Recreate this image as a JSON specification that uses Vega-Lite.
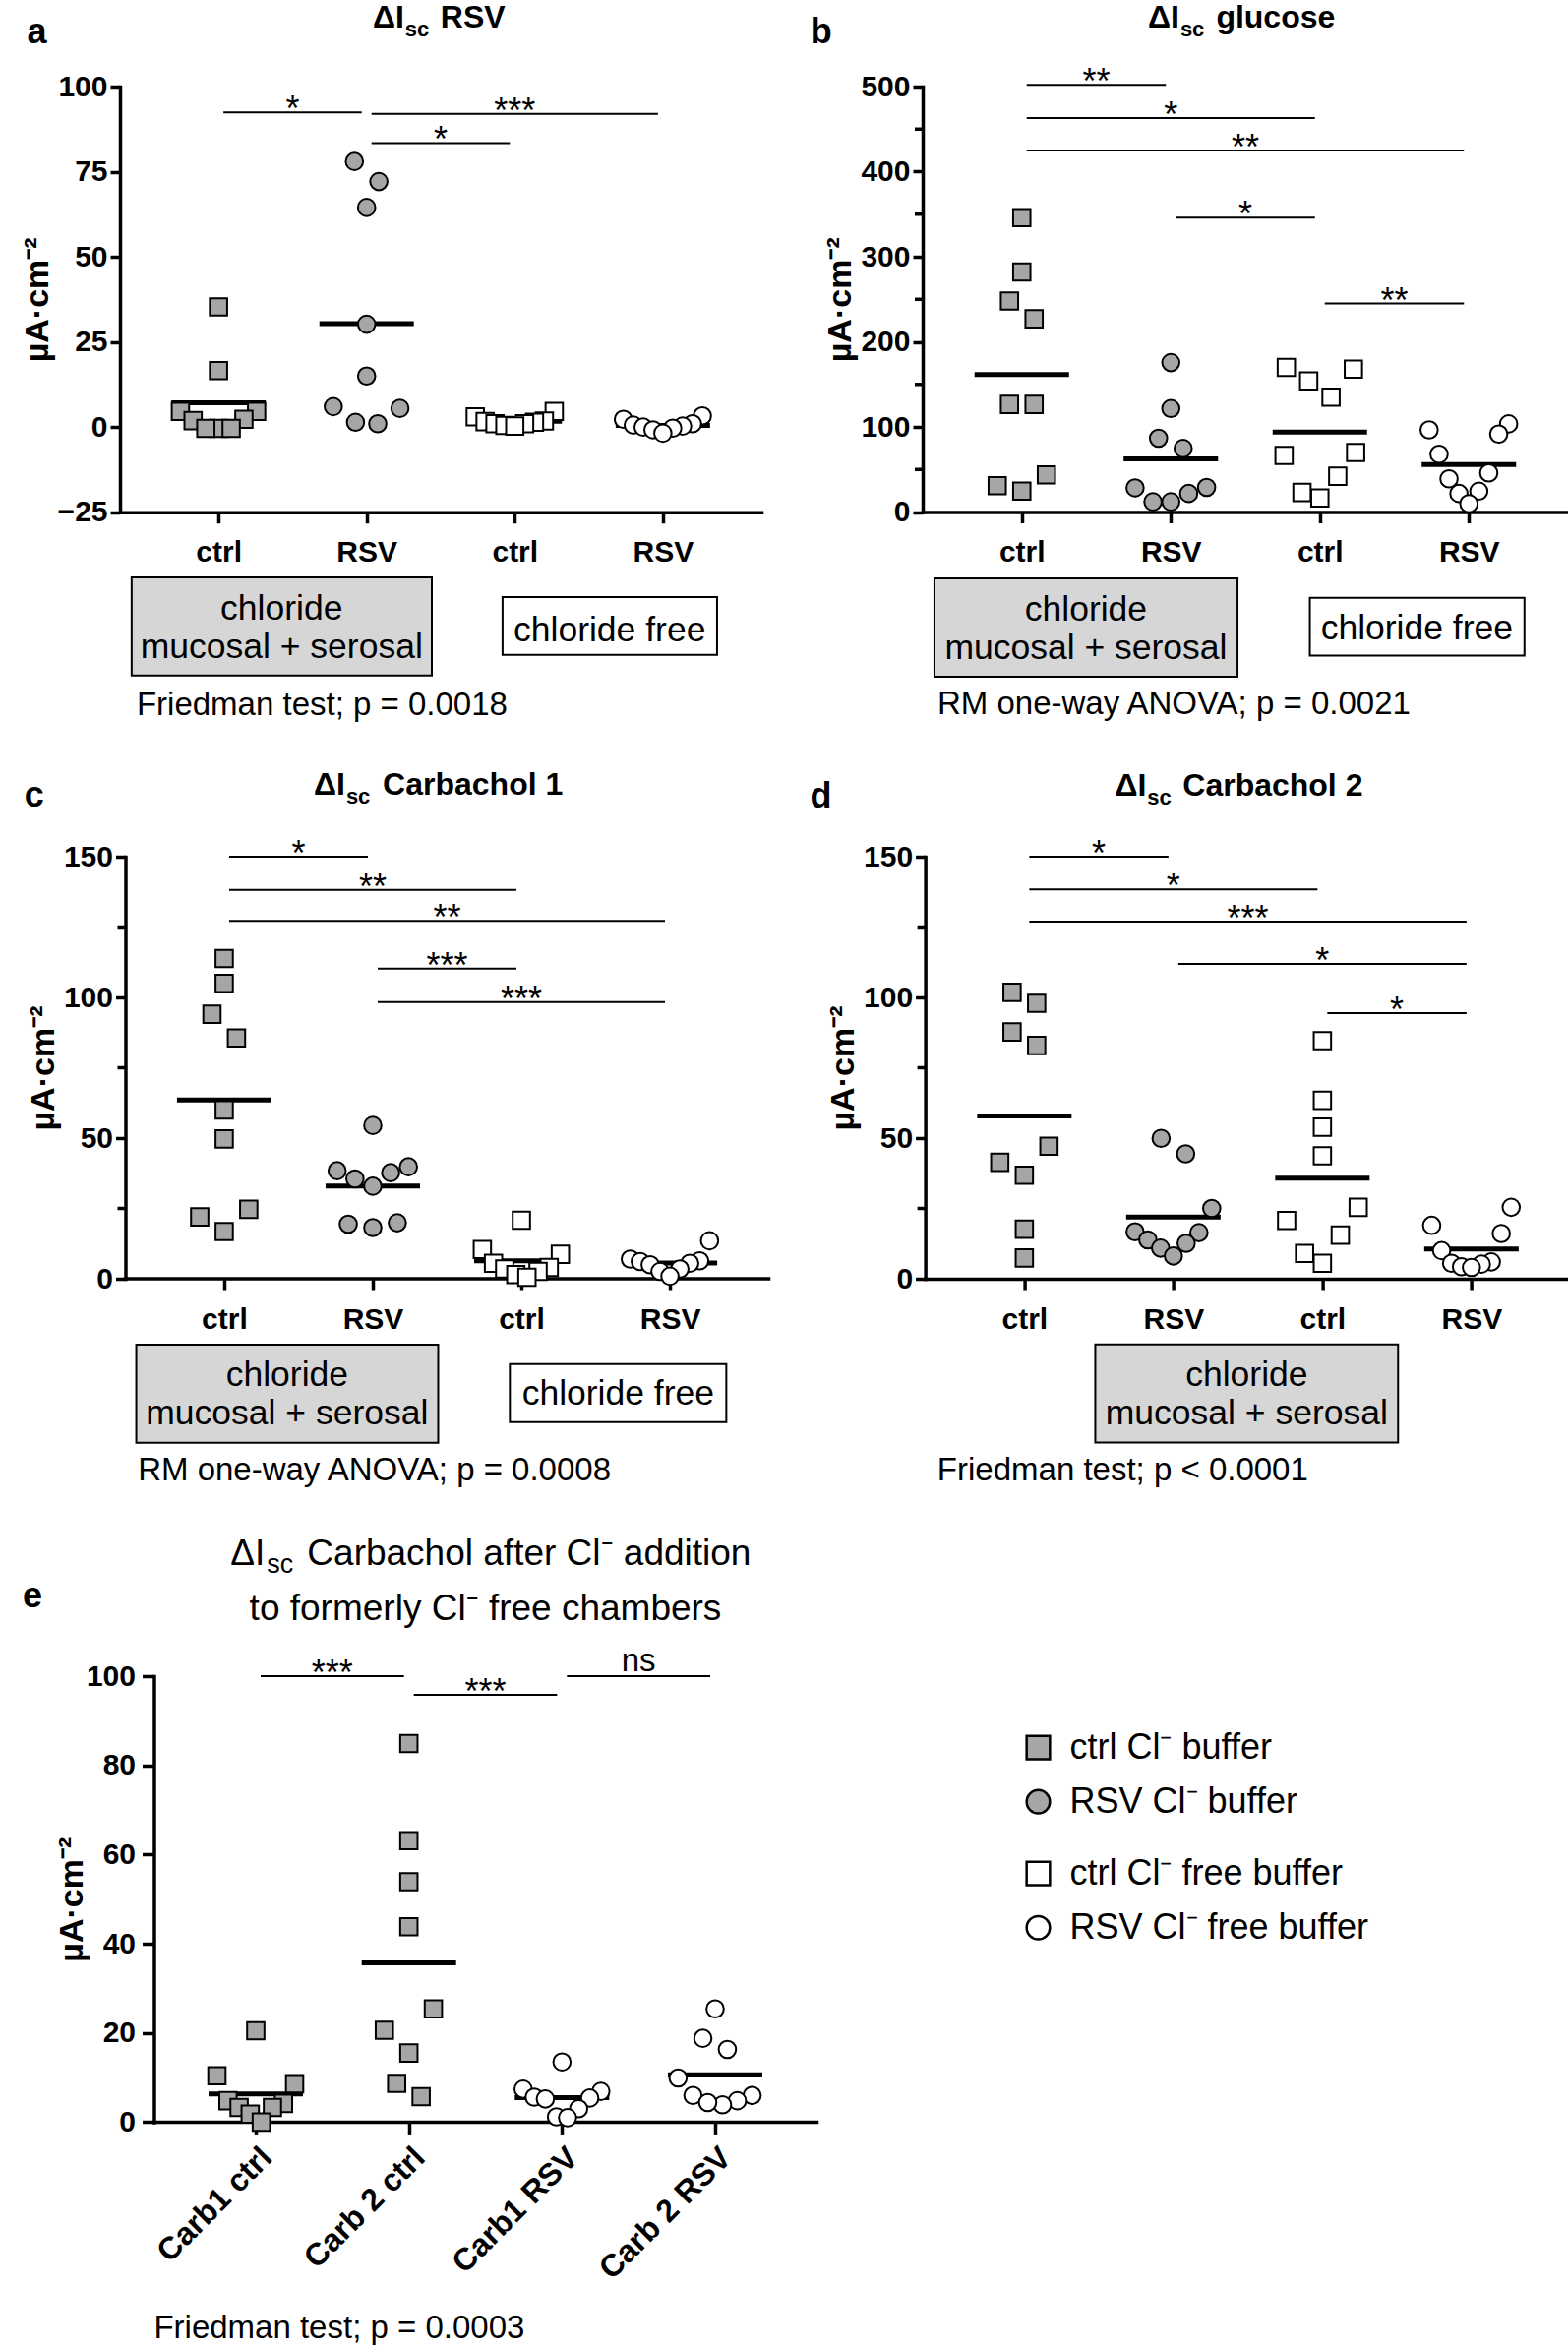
{
"$schema": "https://vega.github.io/schema/vega-lite/v6.json",
"background": "white",
"padding": {"left": 21, "top": 1, "right": 0, "bottom": 0},
"spacing": 47,
"config": {
  "view": {"stroke": null},
  "font": "Liberation Sans",
  "text": {"font": "Liberation Sans", "color": "black"},
  "axis": {"grid": false, "domainColor": "black", "tickColor": "black", "labelColor": "black", "titleColor": "black",
    "labelFont": "Liberation Sans", "titleFont": "Liberation Sans", "labelFontWeight": "bold", "titleFontWeight": "bold",
    "labelFontSize": 30, "titleFontSize": 34, "domainWidth": 3.5, "tickWidth": 3.5, "domainCap": "square"},
  "axisX": {"tickSize": 11, "labelPadding": 15, "labelFontSize": 30},
  "axisY": {"tickSize": 10, "labelPadding": 3, "titlePadding": 3}
},
"vconcat": [
{"hconcat": [
{
 "width": 652, "height": 432.7,
 "data": {"values": [
  {"g":0,"v":35.3,"t":"c"},{"g":0,"v":16.6,"t":"c"},{"g":0,"v":4.6,"t":"c"},{"g":0,"v":4.6,"t":"c"},{"g":0,"v":2.3,"t":"c"},{"g":0,"v":1.9,"t":"c"},{"g":0,"v":-0.4,"t":"c"},{"g":0,"v":-0.4,"t":"c"},{"g":0,"v":-0.4,"t":"c"},
  {"g":1,"v":78,"t":"r"},{"g":1,"v":72.1,"t":"r"},{"g":1,"v":64.5,"t":"r"},{"g":1,"v":30.2,"t":"r"},{"g":1,"v":15,"t":"r"},{"g":1,"v":5.5,"t":"r"},{"g":1,"v":6,"t":"r"},{"g":1,"v":1,"t":"r"},{"g":1,"v":1.4,"t":"r"},
  {"g":2,"v":4.6,"t":"cf"},{"g":2,"v":3,"t":"cf"},{"g":2,"v":1.8,"t":"cf"},{"g":2,"v":1.6,"t":"cf"},{"g":2,"v":1.4,"t":"cf"},{"g":2,"v":1,"t":"cf"},{"g":2,"v":1,"t":"cf"},{"g":2,"v":0.5,"t":"cf"},{"g":2,"v":0.3,"t":"cf"},
  {"g":3,"v":3.3,"t":"rf"},{"g":3,"v":2.3,"t":"rf"},{"g":3,"v":1,"t":"rf"},{"g":3,"v":0.6,"t":"rf"},{"g":3,"v":0.3,"t":"rf"},{"g":3,"v":0,"t":"rf"},{"g":3,"v":-0.3,"t":"rf"},{"g":3,"v":-0.8,"t":"rf"},{"g":3,"v":-1.8,"t":"rf"}
 ]},
 "layer": [
  {"mark": {"type": "tick", "orient": "horizontal", "size": 96, "thickness": 5, "color": "black", "opacity": 1},
   "encoding": {
    "x": {"field": "g", "type": "quantitative", "scale": {"domain": [-0.665, 3.665], "nice": false, "zero": false},
          "axis": {"values": [0,1,2,3], "labelExpr": "['ctrl','RSV','ctrl','RSV'][datum.value]", "title": null}},
    "y": {"aggregate": "mean", "field": "v", "type": "quantitative", "scale": {"domain": [-25, 100], "nice": false, "zero": false},
          "axis": {"values": [-25,0,25,50,75,100], "title": "µA·cm⁻²"}}
   }},
  {"transform": [
     {"window": [{"op": "lag", "field": "v", "as": "pv"}], "groupby": ["g"], "sort": [{"field": "v", "order": "ascending"}]},
     {"calculate": "isValid(datum.pv) && datum.v - datum.pv <= 7.0 ? 0 : 1", "as": "nw"},
     {"window": [{"op": "sum", "field": "nw", "as": "cl"}], "groupby": ["g"], "sort": [{"field": "v", "order": "ascending"}], "frame": [null, 0]},
     {"window": [{"op": "row_number", "as": "rk"}], "groupby": ["g","cl"], "sort": [{"field": "v", "order": "ascending"}]},
     {"joinaggregate": [{"op": "count", "as": "n"}], "groupby": ["g","cl"]},
     {"calculate": "datum.g + ((((datum.rk - 1) % 2 == 0) ? 1 : -1) * ceil((datum.rk - 1) / 2) + (datum.n % 2 == 0 ? 0.5 : 0)) * min(0.165, 0.6 / datum.n)", "as": "xj"}
   ],
   "mark": {"type": "point", "filled": true, "size": 310, "stroke": "black", "strokeWidth": 2, "opacity": 1},
   "encoding": {
    "x": {"field": "xj", "type": "quantitative"},
    "y": {"field": "v", "type": "quantitative"},
    "shape": {"field": "t", "type": "nominal", "scale": {"domain": ["c","r","cf","rf"], "range": ["square","circle","square","circle"]}, "legend": null},
    "fill": {"field": "t", "type": "nominal", "scale": {"domain": ["c","r","cf","rf"], "range": ["#a6a6a6","#a6a6a6","#ffffff","#ffffff"]}, "legend": null}
   }},
  {"data": {"values": [{"id":1,"from":0,"to":1,"h":92.4,"lab":"*"},{"id":2,"from":1,"to":3,"h":92.0,"lab":"***"},{"id":3,"from":1,"to":2,"h":83.4,"lab":"*"}]},
   "layer": [
    {"mark": {"type": "rule", "color": "black", "strokeWidth": 2, "xOffset": 5, "x2Offset": -5},
     "encoding": {"x": {"field": "from", "type": "quantitative"}, "x2": {"field": "to"}, "y": {"field": "h", "type": "quantitative"}}},
    {"transform": [{"fold": ["from","to"], "as": ["end","pos"]}],
     "mark": {"type": "text", "fontSize": 36, "dy": 9, "baseline": "alphabetic", "align": "center"},
     "encoding": {"x": {"aggregate": "mean", "field": "pos", "type": "quantitative"}, "y": {"field": "h", "type": "quantitative"}, "text": {"field": "lab"}, "detail": {"field": "id", "type": "nominal"}}}
   ]},
  {"data": {"values": [{"from":0,"to":1,"lab":["chloride","mucosal + serosal"]}]},
   "layer": [
    {"mark": {"type": "rect", "fill": "#d6d6d6", "stroke": "black", "strokeWidth": 2, "xOffset": -88.3, "x2Offset": 66.3},
     "encoding": {"x": {"field": "from", "type": "quantitative"}, "x2": {"field": "to"}, "y": {"datum": -44.15, "type": "quantitative"}, "y2": {"datum": -73.0}}},
    {"mark": {"type": "text", "fontSize": 35.5, "lineHeight": 39, "align": "center", "baseline": "alphabetic", "dx": 64.1},
     "encoding": {"x": {"field": "from", "type": "quantitative"}, "y": {"datum": -56.7, "type": "quantitative"}, "text": {"field": "lab"}}}
   ]},
  {"data": {"values": [{"from":2,"to":3,"lab":"chloride free"}]},
   "layer": [
    {"mark": {"type": "rect", "fill": "#ffffff", "stroke": "black", "strokeWidth": 2, "xOffset": -12.4, "x2Offset": 55.1},
     "encoding": {"x": {"field": "from", "type": "quantitative"}, "x2": {"field": "to"}, "y": {"datum": -49.9, "type": "quantitative"}, "y2": {"datum": -66.9}}},
    {"mark": {"type": "text", "fontSize": 35.5, "align": "center", "baseline": "alphabetic", "dx": 96.4},
     "encoding": {"x": {"field": "from", "type": "quantitative"}, "y": {"datum": -62.8, "type": "quantitative"}, "text": {"field": "lab"}}}
   ]},
  {"data": {"values": [{"s": "a"}]}, "mark": {"type": "text", "fontSize": 36, "fontWeight": "bold", "align": "center", "baseline": "alphabetic"},
   "encoding": {"x": {"datum": -1.226, "type": "quantitative"}, "y": {"datum": 112.7, "type": "quantitative"}, "text": {"field": "s"}}},
  {"data": {"values": [{"s": "ΔI"}]}, "mark": {"type": "text", "fontSize": 32, "fontWeight": "bold", "align": "right", "baseline": "alphabetic"},
   "encoding": {"x": {"datum": 1.253, "type": "quantitative"}, "y": {"datum": 117.4, "type": "quantitative"}, "text": {"field": "s"}}},
  {"data": {"values": [{"s": "sc"}]}, "mark": {"type": "text", "fontSize": 22, "fontWeight": "bold", "align": "left", "baseline": "alphabetic", "dx": 1, "dy": 9},
   "encoding": {"x": {"datum": 1.253, "type": "quantitative"}, "y": {"datum": 117.4, "type": "quantitative"}, "text": {"field": "s"}}},
  {"data": {"values": [{"s": "RSV"}]}, "mark": {"type": "text", "fontSize": 32, "fontWeight": "bold", "align": "left", "baseline": "alphabetic", "dx": 37},
   "encoding": {"x": {"datum": 1.253, "type": "quantitative"}, "y": {"datum": 117.4, "type": "quantitative"}, "text": {"field": "s"}}},
  {"data": {"values": [{"s": "Friedman test; p = 0.0018"}]}, "mark": {"type": "text", "fontSize": 33, "align": "left", "baseline": "alphabetic", "dx": -83.2},
   "encoding": {"x": {"datum": 0, "type": "quantitative"}, "y": {"datum": -84.5, "type": "quantitative"}, "text": {"field": "s"}}}
 ]
},
{
 "width": 656, "height": 432.5,
 "data": {"values": [
  {"g":0,"v":346,"t":"c"},{"g":0,"v":282,"t":"c"},{"g":0,"v":248,"t":"c"},{"g":0,"v":227,"t":"c"},{"g":0,"v":126.5,"t":"c"},{"g":0,"v":126.5,"t":"c"},{"g":0,"v":43.6,"t":"c"},{"g":0,"v":24.5,"t":"c"},{"g":0,"v":31,"t":"c"},
  {"g":1,"v":175.6,"t":"r"},{"g":1,"v":121.6,"t":"r"},{"g":1,"v":86.7,"t":"r"},{"g":1,"v":74.7,"t":"r"},{"g":1,"v":28.9,"t":"r"},{"g":1,"v":21.8,"t":"r"},{"g":1,"v":12,"t":"r"},{"g":1,"v":12,"t":"r"},{"g":1,"v":28.4,"t":"r"},
  {"g":2,"v":170,"t":"cf"},{"g":2,"v":168,"t":"cf"},{"g":2,"v":154,"t":"cf"},{"g":2,"v":135,"t":"cf"},{"g":2,"v":70,"t":"cf"},{"g":2,"v":66.5,"t":"cf"},{"g":2,"v":42,"t":"cf"},{"g":2,"v":16.4,"t":"cf"},{"g":2,"v":23,"t":"cf"},
  {"g":3,"v":103.6,"t":"rf"},{"g":3,"v":96.5,"t":"rf"},{"g":3,"v":91.6,"t":"rf"},{"g":3,"v":68,"t":"rf"},{"g":3,"v":46,"t":"rf"},{"g":3,"v":39,"t":"rf"},{"g":3,"v":24.5,"t":"rf"},{"g":3,"v":21.8,"t":"rf"},{"g":3,"v":9.8,"t":"rf"}
 ]},
 "layer": [
  {"mark": {"type": "tick", "orient": "horizontal", "size": 96, "thickness": 5, "color": "black", "opacity": 1},
   "encoding": {
    "x": {"field": "g", "type": "quantitative", "scale": {"domain": [-0.665, 3.665], "nice": false, "zero": false},
          "axis": {"values": [0,1,2,3], "labelExpr": "['ctrl','RSV','ctrl','RSV'][datum.value]", "title": null}},
    "y": {"aggregate": "mean", "field": "v", "type": "quantitative", "scale": {"domain": [0, 500], "nice": false, "zero": false},
          "axis": {"values": [0,100,200,300,400,500], "title": "µA·cm⁻²"}}
   }},
  {"data": {"values": [{"m":50},{"m":150},{"m":250},{"m":350},{"m":450}]}, "mark": {"type": "rule", "color": "black", "strokeWidth": 3.5, "xOffset": -8},
   "encoding": {"x": {"datum": -0.665, "type": "quantitative"}, "x2": {"datum": -0.665}, "y": {"field": "m", "type": "quantitative"}}},
  {"transform": [
     {"window": [{"op": "lag", "field": "v", "as": "pv"}], "groupby": ["g"], "sort": [{"field": "v", "order": "ascending"}]},
     {"calculate": "isValid(datum.pv) && datum.v - datum.pv <= 28 ? 0 : 1", "as": "nw"},
     {"window": [{"op": "sum", "field": "nw", "as": "cl"}], "groupby": ["g"], "sort": [{"field": "v", "order": "ascending"}], "frame": [null, 0]},
     {"window": [{"op": "row_number", "as": "rk"}], "groupby": ["g","cl"], "sort": [{"field": "v", "order": "ascending"}]},
     {"joinaggregate": [{"op": "count", "as": "n"}], "groupby": ["g","cl"]},
     {"calculate": "datum.g + ((((datum.rk - 1) % 2 == 0) ? 1 : -1) * ceil((datum.rk - 1) / 2) + (datum.n % 2 == 0 ? 0.5 : 0)) * min(0.165, 0.6 / datum.n)", "as": "xj"}
   ],
   "mark": {"type": "point", "filled": true, "size": 310, "stroke": "black", "strokeWidth": 2, "opacity": 1},
   "encoding": {
    "x": {"field": "xj", "type": "quantitative"},
    "y": {"field": "v", "type": "quantitative"},
    "shape": {"field": "t", "type": "nominal", "scale": {"domain": ["c","r","cf","rf"], "range": ["square","circle","square","circle"]}, "legend": null},
    "fill": {"field": "t", "type": "nominal", "scale": {"domain": ["c","r","cf","rf"], "range": ["#a6a6a6","#a6a6a6","#ffffff","#ffffff"]}, "legend": null}
   }},
  {"data": {"values": [{"id":1,"from":0,"to":1,"h":502,"lab":"**"},{"id":2,"from":0,"to":2,"h":463,"lab":"*"},{"id":3,"from":0,"to":3,"h":425,"lab":"**"},{"id":4,"from":1,"to":2,"h":346,"lab":"*"},{"id":5,"from":2,"to":3,"h":245,"lab":"**"}]},
   "layer": [
    {"mark": {"type": "rule", "color": "black", "strokeWidth": 2, "xOffset": 5, "x2Offset": -5},
     "encoding": {"x": {"field": "from", "type": "quantitative"}, "x2": {"field": "to"}, "y": {"field": "h", "type": "quantitative"}}},
    {"transform": [{"fold": ["from","to"], "as": ["end","pos"]}],
     "mark": {"type": "text", "fontSize": 36, "dy": 9, "baseline": "alphabetic", "align": "center"},
     "encoding": {"x": {"aggregate": "mean", "field": "pos", "type": "quantitative"}, "y": {"field": "h", "type": "quantitative"}, "text": {"field": "lab"}, "detail": {"field": "id", "type": "nominal"}}}
   ]},
  {"data": {"values": [{"from":0,"to":1,"lab":["chloride","mucosal + serosal"]}]},
   "layer": [
    {"mark": {"type": "rect", "fill": "#d6d6d6", "stroke": "black", "strokeWidth": 2, "xOffset": -88.8, "x2Offset": 67.8},
     "encoding": {"x": {"field": "from", "type": "quantitative"}, "x2": {"field": "to"}, "y": {"datum": -77.9, "type": "quantitative"}, "y2": {"datum": -193.5}}},
    {"mark": {"type": "text", "fontSize": 35.5, "lineHeight": 39, "align": "center", "baseline": "alphabetic", "dx": 65.2},
     "encoding": {"x": {"field": "from", "type": "quantitative"}, "y": {"datum": -128.1, "type": "quantitative"}, "text": {"field": "lab"}}}
   ]},
  {"data": {"values": [{"from":2,"to":3,"lab":"chloride free"}]},
   "layer": [
    {"mark": {"type": "rect", "fill": "#ffffff", "stroke": "black", "strokeWidth": 2, "xOffset": -10.2, "x2Offset": 56.5},
     "encoding": {"x": {"field": "from", "type": "quantitative"}, "x2": {"field": "to"}, "y": {"datum": -100.8, "type": "quantitative"}, "y2": {"datum": -168.9}}},
    {"mark": {"type": "text", "fontSize": 35.5, "align": "center", "baseline": "alphabetic", "dx": 98.6},
     "encoding": {"x": {"field": "from", "type": "quantitative"}, "y": {"datum": -149.8, "type": "quantitative"}, "text": {"field": "lab"}}}
   ]},
  {"data": {"values": [{"s": "b"}]}, "mark": {"type": "text", "fontSize": 36, "fontWeight": "bold", "align": "center", "baseline": "alphabetic"},
   "encoding": {"x": {"datum": -1.347, "type": "quantitative"}, "y": {"datum": 550.8, "type": "quantitative"}, "text": {"field": "s"}}},
  {"data": {"values": [{"s": "ΔI"}]}, "mark": {"type": "text", "fontSize": 32, "fontWeight": "bold", "align": "right", "baseline": "alphabetic"},
   "encoding": {"x": {"datum": 1.057, "type": "quantitative"}, "y": {"datum": 569.8, "type": "quantitative"}, "text": {"field": "s"}}},
  {"data": {"values": [{"s": "sc"}]}, "mark": {"type": "text", "fontSize": 22, "fontWeight": "bold", "align": "left", "baseline": "alphabetic", "dx": 1, "dy": 9},
   "encoding": {"x": {"datum": 1.057, "type": "quantitative"}, "y": {"datum": 569.8, "type": "quantitative"}, "text": {"field": "s"}}},
  {"data": {"values": [{"s": "glucose"}]}, "mark": {"type": "text", "fontSize": 32, "fontWeight": "bold", "align": "left", "baseline": "alphabetic", "dx": 37.5},
   "encoding": {"x": {"datum": 1.057, "type": "quantitative"}, "y": {"datum": 569.8, "type": "quantitative"}, "text": {"field": "s"}}},
  {"data": {"values": [{"s": "RM one-way ANOVA; p = 0.0021"}]}, "mark": {"type": "text", "fontSize": 33, "align": "left", "baseline": "alphabetic", "dx": -85.8},
   "encoding": {"x": {"datum": 0, "type": "quantitative"}, "y": {"datum": -237.1, "type": "quantitative"}, "text": {"field": "s"}}}
 ]
}
], "spacing": 49},
{"hconcat": [
{
 "width": 659.5, "height": 429,
 "data": {"values": [
  {"g":0,"v":113.8,"t":"c"},{"g":0,"v":105,"t":"c"},{"g":0,"v":94,"t":"c"},{"g":0,"v":85.6,"t":"c"},{"g":0,"v":60,"t":"c"},{"g":0,"v":49.7,"t":"c"},{"g":0,"v":24.7,"t":"c"},{"g":0,"v":22,"t":"c"},{"g":0,"v":16.8,"t":"c"},
  {"g":1,"v":54.5,"t":"r"},{"g":1,"v":39.8,"t":"r"},{"g":1,"v":38.4,"t":"r"},{"g":1,"v":37.7,"t":"r"},{"g":1,"v":35.5,"t":"r"},{"g":1,"v":32.9,"t":"r"},{"g":1,"v":19.9,"t":"r"},{"g":1,"v":19.4,"t":"r"},{"g":1,"v":18.2,"t":"r"},
  {"g":2,"v":20.8,"t":"cf"},{"g":2,"v":10.4,"t":"cf"},{"g":2,"v":8.7,"t":"cf"},{"g":2,"v":5.5,"t":"cf"},{"g":2,"v":4,"t":"cf"},{"g":2,"v":3.5,"t":"cf"},{"g":2,"v":2.6,"t":"cf"},{"g":2,"v":1.5,"t":"cf"},{"g":2,"v":0.5,"t":"cf"},
  {"g":3,"v":13.5,"t":"rf"},{"g":3,"v":7,"t":"rf"},{"g":3,"v":6.4,"t":"rf"},{"g":3,"v":6.1,"t":"rf"},{"g":3,"v":5.5,"t":"rf"},{"g":3,"v":5,"t":"rf"},{"g":3,"v":3.5,"t":"rf"},{"g":3,"v":2.6,"t":"rf"},{"g":3,"v":0.9,"t":"rf"}
 ]},
 "layer": [
  {"mark": {"type": "tick", "orient": "horizontal", "size": 96, "thickness": 5, "color": "black", "opacity": 1},
   "encoding": {
    "x": {"field": "g", "type": "quantitative", "scale": {"domain": [-0.7014, 3.665], "nice": false, "zero": false},
          "axis": {"values": [0,1,2,3], "labelExpr": "['ctrl','RSV','ctrl','RSV'][datum.value]", "title": null, "domain": false}},
    "y": {"aggregate": "mean", "field": "v", "type": "quantitative", "scale": {"domain": [0, 150], "nice": false, "zero": false},
          "axis": {"values": [0,50,100,150], "title": "µA·cm⁻²", "offset": -5.5}}
   }},
  {"data": {"values": [{}]}, "mark": {"type": "rule", "color": "black", "strokeWidth": 3.5, "strokeCap": "square"},
   "encoding": {"x": {"datum": -0.665, "type": "quantitative"}, "x2": {"datum": 3.665}, "y": {"datum": 0, "type": "quantitative"}}},
  {"data": {"values": [{"m":25},{"m":75},{"m":125}]}, "mark": {"type": "rule", "color": "black", "strokeWidth": 3.5, "xOffset": -8},
   "encoding": {"x": {"datum": -0.665, "type": "quantitative"}, "x2": {"datum": -0.665}, "y": {"field": "m", "type": "quantitative"}}},
  {"transform": [
     {"window": [{"op": "lag", "field": "v", "as": "pv"}], "groupby": ["g"], "sort": [{"field": "v", "order": "ascending"}]},
     {"calculate": "isValid(datum.pv) && datum.v - datum.pv <= 8.5 ? 0 : 1", "as": "nw"},
     {"window": [{"op": "sum", "field": "nw", "as": "cl"}], "groupby": ["g"], "sort": [{"field": "v", "order": "ascending"}], "frame": [null, 0]},
     {"window": [{"op": "row_number", "as": "rk"}], "groupby": ["g","cl"], "sort": [{"field": "v", "order": "ascending"}]},
     {"joinaggregate": [{"op": "count", "as": "n"}], "groupby": ["g","cl"]},
     {"calculate": "datum.g + ((((datum.rk - 1) % 2 == 0) ? 1 : -1) * ceil((datum.rk - 1) / 2) + (datum.n % 2 == 0 ? 0.5 : 0)) * min(0.165, 0.6 / datum.n)", "as": "xj"}
   ],
   "mark": {"type": "point", "filled": true, "size": 310, "stroke": "black", "strokeWidth": 2, "opacity": 1},
   "encoding": {
    "x": {"field": "xj", "type": "quantitative"},
    "y": {"field": "v", "type": "quantitative"},
    "shape": {"field": "t", "type": "nominal", "scale": {"domain": ["c","r","cf","rf"], "range": ["square","circle","square","circle"]}, "legend": null},
    "fill": {"field": "t", "type": "nominal", "scale": {"domain": ["c","r","cf","rf"], "range": ["#a6a6a6","#a6a6a6","#ffffff","#ffffff"]}, "legend": null}
   }},
  {"data": {"values": [{"id":1,"from":0,"to":1,"h":150,"lab":"*"},{"id":2,"from":0,"to":2,"h":138.2,"lab":"**"},{"id":3,"from":0,"to":3,"h":127.2,"lab":"**"},{"id":4,"from":1,"to":2,"h":110.2,"lab":"***"},{"id":5,"from":1,"to":3,"h":98.3,"lab":"***"}]},
   "layer": [
    {"mark": {"type": "rule", "color": "black", "strokeWidth": 2, "xOffset": 5, "x2Offset": -5},
     "encoding": {"x": {"field": "from", "type": "quantitative"}, "x2": {"field": "to"}, "y": {"field": "h", "type": "quantitative"}}},
    {"transform": [{"fold": ["from","to"], "as": ["end","pos"]}],
     "mark": {"type": "text", "fontSize": 36, "dy": 9, "baseline": "alphabetic", "align": "center"},
     "encoding": {"x": {"aggregate": "mean", "field": "pos", "type": "quantitative"}, "y": {"field": "h", "type": "quantitative"}, "text": {"field": "lab"}, "detail": {"field": "id", "type": "nominal"}}}
   ]},
  {"data": {"values": [{"from":0,"to":1,"lab":["chloride","mucosal + serosal"]}]},
   "layer": [
    {"mark": {"type": "rect", "fill": "#d6d6d6", "stroke": "black", "strokeWidth": 2, "xOffset": -89.4, "x2Offset": 66.5},
     "encoding": {"x": {"field": "from", "type": "quantitative"}, "x2": {"field": "to"}, "y": {"datum": -23.4, "type": "quantitative"}, "y2": {"datum": -58.3}}},
    {"mark": {"type": "text", "fontSize": 35.5, "lineHeight": 39, "align": "center", "baseline": "alphabetic", "dx": 63.9},
     "encoding": {"x": {"field": "from", "type": "quantitative"}, "y": {"datum": -38.1, "type": "quantitative"}, "text": {"field": "lab"}}}
   ]},
  {"data": {"values": [{"from":2,"to":3,"lab":"chloride free"}]},
   "layer": [
    {"mark": {"type": "rect", "fill": "#ffffff", "stroke": "black", "strokeWidth": 2, "xOffset": -11.7, "x2Offset": 57.3},
     "encoding": {"x": {"field": "from", "type": "quantitative"}, "x2": {"field": "to"}, "y": {"datum": -30.3, "type": "quantitative"}, "y2": {"datum": -51.0}}},
    {"mark": {"type": "text", "fontSize": 35.5, "align": "center", "baseline": "alphabetic", "dx": 98.3},
     "encoding": {"x": {"field": "from", "type": "quantitative"}, "y": {"datum": -44.9, "type": "quantitative"}, "text": {"field": "lab"}}}
   ]},
  {"data": {"values": [{"s": "c"}]}, "mark": {"type": "text", "fontSize": 36, "fontWeight": "bold", "align": "center", "baseline": "alphabetic"},
   "encoding": {"x": {"datum": -1.2794, "type": "quantitative"}, "y": {"datum": 167.8, "type": "quantitative"}, "text": {"field": "s"}}},
  {"data": {"values": [{"s": "ΔI"}]}, "mark": {"type": "text", "fontSize": 32, "fontWeight": "bold", "align": "right", "baseline": "alphabetic"},
   "encoding": {"x": {"datum": 0.814, "type": "quantitative"}, "y": {"datum": 172.1, "type": "quantitative"}, "text": {"field": "s"}}},
  {"data": {"values": [{"s": "sc"}]}, "mark": {"type": "text", "fontSize": 22, "fontWeight": "bold", "align": "left", "baseline": "alphabetic", "dx": 1, "dy": 9},
   "encoding": {"x": {"datum": 0.814, "type": "quantitative"}, "y": {"datum": 172.1, "type": "quantitative"}, "text": {"field": "s"}}},
  {"data": {"values": [{"s": "Carbachol 1"}]}, "mark": {"type": "text", "fontSize": 32, "fontWeight": "bold", "align": "left", "baseline": "alphabetic", "dx": 38.2},
   "encoding": {"x": {"datum": 0.814, "type": "quantitative"}, "y": {"datum": 172.1, "type": "quantitative"}, "text": {"field": "s"}}},
  {"data": {"values": [{"s": "RM one-way ANOVA; p = 0.0008"}]}, "mark": {"type": "text", "fontSize": 33, "align": "left", "baseline": "alphabetic", "dx": -87.8},
   "encoding": {"x": {"datum": 0, "type": "quantitative"}, "y": {"datum": -71.8, "type": "quantitative"}, "text": {"field": "s"}}}
 ]
},
{
 "width": 656, "height": 429,
 "data": {"values": [
  {"g":0,"v":101.8,"t":"c"},{"g":0,"v":97.9,"t":"c"},{"g":0,"v":87.7,"t":"c"},{"g":0,"v":82.9,"t":"c"},{"g":0,"v":47.1,"t":"c"},{"g":0,"v":41.4,"t":"c"},{"g":0,"v":36.8,"t":"c"},{"g":0,"v":17.6,"t":"c"},{"g":0,"v":7.4,"t":"c"},
  {"g":1,"v":49.9,"t":"r"},{"g":1,"v":44.4,"t":"r"},{"g":1,"v":25,"t":"r"},{"g":1,"v":16.7,"t":"r"},{"g":1,"v":16.4,"t":"r"},{"g":1,"v":13.8,"t":"r"},{"g":1,"v":12.6,"t":"r"},{"g":1,"v":10.9,"t":"r"},{"g":1,"v":8.1,"t":"r"},
  {"g":2,"v":84.6,"t":"cf"},{"g":2,"v":63.4,"t":"cf"},{"g":2,"v":53.9,"t":"cf"},{"g":2,"v":43.7,"t":"cf"},{"g":2,"v":25.4,"t":"cf"},{"g":2,"v":20.7,"t":"cf"},{"g":2,"v":15.5,"t":"cf"},{"g":2,"v":9,"t":"cf"},{"g":2,"v":5.5,"t":"cf"},
  {"g":3,"v":25.4,"t":"rf"},{"g":3,"v":19,"t":"rf"},{"g":3,"v":16.1,"t":"rf"},{"g":3,"v":10,"t":"rf"},{"g":3,"v":6,"t":"rf"},{"g":3,"v":5.5,"t":"rf"},{"g":3,"v":5.2,"t":"rf"},{"g":3,"v":4.3,"t":"rf"},{"g":3,"v":4,"t":"rf"}
 ]},
 "layer": [
  {"mark": {"type": "tick", "orient": "horizontal", "size": 96, "thickness": 5, "color": "black", "opacity": 1},
   "encoding": {
    "x": {"field": "g", "type": "quantitative", "scale": {"domain": [-0.665, 3.665], "nice": false, "zero": false},
          "axis": {"values": [0,1,2,3], "labelExpr": "['ctrl','RSV','ctrl','RSV'][datum.value]", "title": null}},
    "y": {"aggregate": "mean", "field": "v", "type": "quantitative", "scale": {"domain": [0, 150], "nice": false, "zero": false},
          "axis": {"values": [0,50,100,150], "title": "µA·cm⁻²"}}
   }},
  {"data": {"values": [{"m":25},{"m":75},{"m":125}]}, "mark": {"type": "rule", "color": "black", "strokeWidth": 3.5, "xOffset": -8},
   "encoding": {"x": {"datum": -0.665, "type": "quantitative"}, "x2": {"datum": -0.665}, "y": {"field": "m", "type": "quantitative"}}},
  {"transform": [
     {"window": [{"op": "lag", "field": "v", "as": "pv"}], "groupby": ["g"], "sort": [{"field": "v", "order": "ascending"}]},
     {"calculate": "isValid(datum.pv) && datum.v - datum.pv <= 8.5 ? 0 : 1", "as": "nw"},
     {"window": [{"op": "sum", "field": "nw", "as": "cl"}], "groupby": ["g"], "sort": [{"field": "v", "order": "ascending"}], "frame": [null, 0]},
     {"window": [{"op": "row_number", "as": "rk"}], "groupby": ["g","cl"], "sort": [{"field": "v", "order": "ascending"}]},
     {"joinaggregate": [{"op": "count", "as": "n"}], "groupby": ["g","cl"]},
     {"calculate": "datum.g + ((((datum.rk - 1) % 2 == 0) ? 1 : -1) * ceil((datum.rk - 1) / 2) + (datum.n % 2 == 0 ? 0.5 : 0)) * min(0.165, 0.6 / datum.n)", "as": "xj"}
   ],
   "mark": {"type": "point", "filled": true, "size": 310, "stroke": "black", "strokeWidth": 2, "opacity": 1},
   "encoding": {
    "x": {"field": "xj", "type": "quantitative"},
    "y": {"field": "v", "type": "quantitative"},
    "shape": {"field": "t", "type": "nominal", "scale": {"domain": ["c","r","cf","rf"], "range": ["square","circle","square","circle"]}, "legend": null},
    "fill": {"field": "t", "type": "nominal", "scale": {"domain": ["c","r","cf","rf"], "range": ["#a6a6a6","#a6a6a6","#ffffff","#ffffff"]}, "legend": null}
   }},
  {"data": {"values": [{"id":1,"from":0,"to":1,"h":150,"lab":"*"},{"id":2,"from":0,"to":2,"h":138.4,"lab":"*"},{"id":3,"from":0,"to":3,"h":126.9,"lab":"***"},{"id":4,"from":1,"to":3,"h":111.9,"lab":"*"},{"id":5,"from":2,"to":3,"h":94.4,"lab":"*"}]},
   "layer": [
    {"mark": {"type": "rule", "color": "black", "strokeWidth": 2, "xOffset": 5, "x2Offset": -5},
     "encoding": {"x": {"field": "from", "type": "quantitative"}, "x2": {"field": "to"}, "y": {"field": "h", "type": "quantitative"}}},
    {"transform": [{"fold": ["from","to"], "as": ["end","pos"]}],
     "mark": {"type": "text", "fontSize": 36, "dy": 9, "baseline": "alphabetic", "align": "center"},
     "encoding": {"x": {"aggregate": "mean", "field": "pos", "type": "quantitative"}, "y": {"field": "h", "type": "quantitative"}, "text": {"field": "lab"}, "detail": {"field": "id", "type": "nominal"}}}
   ]},
  {"data": {"values": [{"from":1,"to":2,"lab":["chloride","mucosal + serosal"]}]},
   "layer": [
    {"mark": {"type": "rect", "fill": "#d6d6d6", "stroke": "black", "strokeWidth": 2, "xOffset": -79.4, "x2Offset": 76.9},
     "encoding": {"x": {"field": "from", "type": "quantitative"}, "x2": {"field": "to"}, "y": {"datum": -23.3, "type": "quantitative"}, "y2": {"datum": -58.2}}},
    {"mark": {"type": "text", "fontSize": 35.5, "lineHeight": 39, "align": "center", "baseline": "alphabetic", "dx": 74.5},
     "encoding": {"x": {"field": "from", "type": "quantitative"}, "y": {"datum": -38.0, "type": "quantitative"}, "text": {"field": "lab"}}}
   ]},
  {"data": {"values": [{"s": "d"}]}, "mark": {"type": "text", "fontSize": 36, "fontWeight": "bold", "align": "center", "baseline": "alphabetic"},
   "encoding": {"x": {"datum": -1.365, "type": "quantitative"}, "y": {"datum": 167.5, "type": "quantitative"}, "text": {"field": "s"}}},
  {"data": {"values": [{"s": "ΔI"}]}, "mark": {"type": "text", "fontSize": 32, "fontWeight": "bold", "align": "right", "baseline": "alphabetic"},
   "encoding": {"x": {"datum": 0.818, "type": "quantitative"}, "y": {"datum": 171.7, "type": "quantitative"}, "text": {"field": "s"}}},
  {"data": {"values": [{"s": "sc"}]}, "mark": {"type": "text", "fontSize": 22, "fontWeight": "bold", "align": "left", "baseline": "alphabetic", "dx": 1, "dy": 9},
   "encoding": {"x": {"datum": 0.818, "type": "quantitative"}, "y": {"datum": 171.7, "type": "quantitative"}, "text": {"field": "s"}}},
  {"data": {"values": [{"s": "Carbachol 2"}]}, "mark": {"type": "text", "fontSize": 32, "fontWeight": "bold", "align": "left", "baseline": "alphabetic", "dx": 37},
   "encoding": {"x": {"datum": 0.818, "type": "quantitative"}, "y": {"datum": 171.7, "type": "quantitative"}, "text": {"field": "s"}}},
  {"data": {"values": [{"s": "Friedman test; p < 0.0001"}]}, "mark": {"type": "text", "fontSize": 33, "align": "left", "baseline": "alphabetic", "dx": -88.5},
   "encoding": {"x": {"datum": 0, "type": "quantitative"}, "y": {"datum": -71.7, "type": "quantitative"}, "text": {"field": "s"}}}
 ]
}
], "spacing": 38.6},
{"hconcat": [
{
 "width": 708.5, "height": 453.4,
 "data": {"values": [
  {"g":0,"v":20.5,"t":"c"},{"g":0,"v":10.4,"t":"c"},{"g":0,"v":8.6,"t":"c"},{"g":0,"v":4.8,"t":"c"},{"g":0,"v":4.2,"t":"c"},{"g":0,"v":3.3,"t":"c"},{"g":0,"v":3.3,"t":"c"},{"g":0,"v":1.8,"t":"c"},{"g":0,"v":0,"t":"c"},
  {"g":1,"v":84.9,"t":"c"},{"g":1,"v":63.1,"t":"c"},{"g":1,"v":53.9,"t":"c"},{"g":1,"v":43.8,"t":"c"},{"g":1,"v":25.4,"t":"c"},{"g":1,"v":20.6,"t":"c"},{"g":1,"v":15.5,"t":"c"},{"g":1,"v":8.7,"t":"c"},{"g":1,"v":5.7,"t":"c"},
  {"g":2,"v":13.5,"t":"rf"},{"g":2,"v":7.4,"t":"rf"},{"g":2,"v":6.9,"t":"rf"},{"g":2,"v":5.6,"t":"rf"},{"g":2,"v":5.4,"t":"rf"},{"g":2,"v":5.2,"t":"rf"},{"g":2,"v":3,"t":"rf"},{"g":2,"v":1.2,"t":"rf"},{"g":2,"v":1,"t":"rf"},
  {"g":3,"v":25.4,"t":"rf"},{"g":3,"v":18.8,"t":"rf"},{"g":3,"v":16.3,"t":"rf"},{"g":3,"v":9.9,"t":"rf"},{"g":3,"v":6,"t":"rf"},{"g":3,"v":6,"t":"rf"},{"g":3,"v":4.8,"t":"rf"},{"g":3,"v":3.9,"t":"rf"},{"g":3,"v":4.4,"t":"rf"}
 ]},
 "layer": [
  {"mark": {"type": "tick", "orient": "horizontal", "size": 96, "thickness": 5, "color": "black", "opacity": 1},
   "encoding": {
    "x": {"field": "g", "type": "quantitative", "scale": {"domain": [-0.8866, 3.665], "nice": false, "zero": false},
          "axis": {"values": [0,1,2,3], "labelExpr": "['Carb1 ctrl','Carb 2 ctrl','Carb1 RSV','Carb 2 RSV'][datum.value]", "title": null, "domain": false,
                   "labelAngle": -45, "labelAlign": "right", "labelBaseline": "top", "labelFontSize": 32, "labelPadding": 8, "tickSize": 12}},
    "y": {"aggregate": "mean", "field": "v", "type": "quantitative", "scale": {"domain": [0, 100], "nice": false, "zero": false},
          "axis": {"values": [0,20,40,60,80,100], "title": "µA·cm⁻²", "tickSize": 12, "labelPadding": 7, "titlePadding": -3, "offset": -34.5}}
   }},
  {"data": {"values": [{}]}, "mark": {"type": "rule", "color": "black", "strokeWidth": 3.5, "strokeCap": "square"},
   "encoding": {"x": {"datum": -0.665, "type": "quantitative"}, "x2": {"datum": 3.665}, "y": {"datum": 0, "type": "quantitative"}}},
  {"transform": [
     {"window": [{"op": "lag", "field": "v", "as": "pv"}], "groupby": ["g"], "sort": [{"field": "v", "order": "ascending"}]},
     {"calculate": "isValid(datum.pv) && datum.v - datum.pv <= 5.4 ? 0 : 1", "as": "nw"},
     {"window": [{"op": "sum", "field": "nw", "as": "cl"}], "groupby": ["g"], "sort": [{"field": "v", "order": "ascending"}], "frame": [null, 0]},
     {"window": [{"op": "row_number", "as": "rk"}], "groupby": ["g","cl"], "sort": [{"field": "v", "order": "ascending"}]},
     {"joinaggregate": [{"op": "count", "as": "n"}], "groupby": ["g","cl"]},
     {"calculate": "datum.g + ((((datum.rk - 1) % 2 == 0) ? 1 : -1) * ceil((datum.rk - 1) / 2) + (datum.n % 2 == 0 ? 0.5 : 0)) * min(0.16, 0.58 / datum.n)", "as": "xj"}
   ],
   "mark": {"type": "point", "filled": true, "size": 310, "stroke": "black", "strokeWidth": 2, "opacity": 1},
   "encoding": {
    "x": {"field": "xj", "type": "quantitative"},
    "y": {"field": "v", "type": "quantitative"},
    "shape": {"field": "t", "type": "nominal", "scale": {"domain": ["c","r","cf","rf"], "range": ["square","circle","square","circle"]}, "legend": null},
    "fill": {"field": "t", "type": "nominal", "scale": {"domain": ["c","r","cf","rf"], "range": ["#a6a6a6","#a6a6a6","#ffffff","#ffffff"]}, "legend": null}
   }},
  {"data": {"values": [{"id":1,"from":0,"to":1,"h":100,"lab":"***"},{"id":2,"from":1,"to":2,"h":95.8,"lab":"***"},{"id":3,"from":2,"to":3,"h":100,"lab":"ns"}]},
   "layer": [
    {"mark": {"type": "rule", "color": "black", "strokeWidth": 2, "xOffset": 5, "x2Offset": -5},
     "encoding": {"x": {"field": "from", "type": "quantitative"}, "x2": {"field": "to"}, "y": {"field": "h", "type": "quantitative"}}},
    {"transform": [{"filter": "datum.lab != 'ns'"}, {"fold": ["from","to"], "as": ["end","pos"]}],
     "mark": {"type": "text", "fontSize": 36, "dy": 9, "baseline": "alphabetic", "align": "center"},
     "encoding": {"x": {"aggregate": "mean", "field": "pos", "type": "quantitative"}, "y": {"field": "h", "type": "quantitative"}, "text": {"field": "lab"}, "detail": {"field": "id", "type": "nominal"}}},
    {"transform": [{"filter": "datum.lab == 'ns'"}, {"fold": ["from","to"], "as": ["end","pos"]}],
     "mark": {"type": "text", "fontSize": 33, "dy": -5, "baseline": "alphabetic", "align": "center"},
     "encoding": {"x": {"aggregate": "mean", "field": "pos", "type": "quantitative"}, "y": {"field": "h", "type": "quantitative"}, "text": {"field": "lab"}, "detail": {"field": "id", "type": "nominal"}}}
   ]},
  {"data": {"values": [{"s": "e"}]}, "mark": {"type": "text", "fontSize": 36, "fontWeight": "bold", "align": "center", "baseline": "alphabetic"},
   "encoding": {"x": {"datum": -1.458, "type": "quantitative"}, "y": {"datum": 115.5, "type": "quantitative"}, "text": {"field": "s"}}},
  {"data": {"values": [{"s": "ΔI"}]}, "mark": {"type": "text", "fontSize": 37, "align": "right", "baseline": "alphabetic"},
   "encoding": {"x": {"datum": 0.06, "type": "quantitative"}, "y": {"datum": 125.0, "type": "quantitative"}, "text": {"field": "s"}}},
  {"data": {"values": [{"s": "sc"}]}, "mark": {"type": "text", "fontSize": 27, "align": "left", "baseline": "alphabetic", "dx": 2, "dy": 8},
   "encoding": {"x": {"datum": 0.06, "type": "quantitative"}, "y": {"datum": 125.0, "type": "quantitative"}, "text": {"field": "s"}}},
  {"data": {"values": [{"s": "Carbachol after Cl⁻ addition"}]}, "mark": {"type": "text", "fontSize": 37, "align": "left", "baseline": "alphabetic", "dx": 43},
   "encoding": {"x": {"datum": 0.06, "type": "quantitative"}, "y": {"datum": 125.0, "type": "quantitative"}, "text": {"field": "s"}}},
  {"data": {"values": [{"s": "to formerly Cl⁻ free chambers"}]}, "mark": {"type": "text", "fontSize": 37, "align": "center", "baseline": "alphabetic"},
   "encoding": {"x": {"datum": 1.5, "type": "quantitative"}, "y": {"datum": 112.5, "type": "quantitative"}, "text": {"field": "s"}}},
  {"data": {"values": [{"s": "Friedman test; p = 0.0003"}]}, "mark": {"type": "text", "fontSize": 33, "align": "left", "baseline": "alphabetic", "dx": -103.6},
   "encoding": {"x": {"datum": 0, "type": "quantitative"}, "y": {"datum": -48.4, "type": "quantitative"}, "text": {"field": "s"}}}
 ]
},
{
 "width": 25, "height": 328.4,
 "data": {"values": [
   {"t":"c","buf":"Cl","inf":"ctrl","lab":"ctrl Cl⁻ buffer"},
   {"t":"r","buf":"Cl","inf":"RSV","lab":"RSV Cl⁻ buffer"},
   {"t":"cf","buf":"free","inf":"ctrl","lab":"ctrl Cl⁻ free buffer"},
   {"t":"rf","buf":"free","inf":"RSV","lab":"RSV Cl⁻ free buffer"}
 ]},
 "layer": [
  {"mark": {"type": "point", "filled": true, "size": 560, "stroke": "black", "strokeWidth": 2.5, "opacity": 1},
   "encoding": {
    "y": {"field": "buf", "type": "nominal", "scale": {"type": "band", "domain": ["Cl","free"], "paddingInner": 0.1406, "paddingOuter": 0.353}, "axis": null},
    "yOffset": {"field": "inf", "type": "nominal", "scale": {"type": "band", "domain": ["ctrl","RSV"], "paddingInner": 0, "paddingOuter": 0}},
    "shape": {"field": "t", "type": "nominal", "scale": {"domain": ["c","r","cf","rf"], "range": ["square","circle","square","circle"]}, "legend": null},
    "fill": {"field": "t", "type": "nominal", "scale": {"domain": ["c","r","cf","rf"], "range": ["#a6a6a6","#a6a6a6","#ffffff","#ffffff"]}, "legend": null}
   }},
  {"mark": {"type": "text", "align": "left", "baseline": "middle", "dx": 32, "fontSize": 36},
   "encoding": {
    "y": {"field": "buf", "type": "nominal", "axis": null},
    "yOffset": {"field": "inf", "type": "nominal"},
    "text": {"field": "lab"}
   }}
 ]
}
], "spacing": 205}
]
}
